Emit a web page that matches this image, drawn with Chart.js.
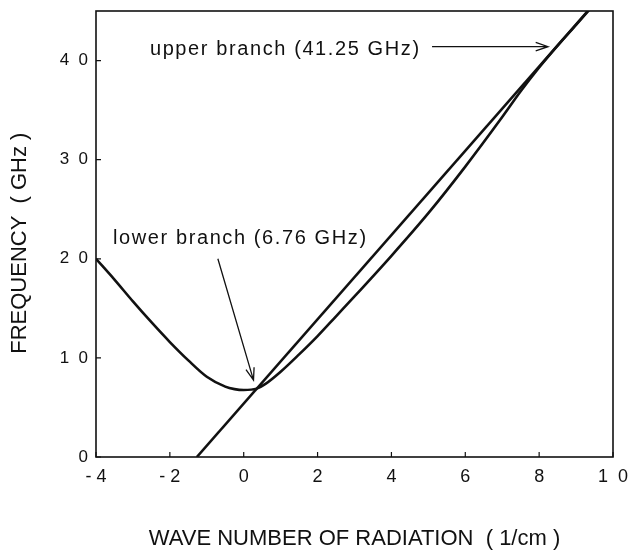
<!DOCTYPE html>
<html>
<head>
<meta charset="utf-8">
<script src="https://cdn.jsdelivr.net/npm/chart.js@4"></script>
<style>
  body { margin: 0; background: #fff; }
  canvas { display: block; }
</style>
</head>
<body>
<canvas id="myChart" width="628" height="550"></canvas>
<script>
// polariton branch (lower + upper)
var curveX = [-4, -3.5, -3, -2.5, -2, -1.5, -1, -0.5, -0.25, 0, 0.35, 0.6, 1, 1.5, 2, 2.5, 3, 4, 5, 6, 7, 7.5, 8, 8.5, 9, 9.4];
var curveY = [20, 17.9, 15.7, 13.6, 11.6, 9.75, 8.1, 7.1, 6.85, 6.76, 6.9, 7.4, 8.6, 10.35, 12.2, 14.2, 16.2, 20.3, 24.6, 29.3, 34.3, 36.9, 39.3, 41.5, 43.6, 45.3];

// straight line
var lineX = [-1.27, 9.4];
var lineY = [0, 45.35];

var xTicks = [-4, -2, 0, 2, 4, 6, 8, 10];
var xTickLabels = ["- 4", "- 2", "0", "2", "4", "6", "8", "1  0"];
var yTicks = [0, 10, 20, 30, 40];
var yTickLabels = ["0", "1  0", "2  0", "3  0", "4  0"];

var FONT = "'Liberation Sans', Arial, Helvetica, sans-serif";
var INK = "#111";

function toPoints(xs, ys)
{
  var pts = [];
  for (var i = 0; i < xs.length; i++)
  {
    pts.push({ x: xs[i], y: ys[i] });
  }
  return pts;
}

function arrow(ctx, x1, y1, x2, y2)
{
  var ang = Math.atan2(y2 - y1, x2 - x1);
  var head = 13;
  ctx.beginPath();
  ctx.moveTo(x1, y1);
  ctx.lineTo(x2, y2);
  ctx.moveTo(x2 - head * Math.cos(ang - 0.33), y2 - head * Math.sin(ang - 0.33));
  ctx.lineTo(x2, y2);
  ctx.lineTo(x2 - head * Math.cos(ang + 0.33), y2 - head * Math.sin(ang + 0.33));
  ctx.stroke();
}

function noPadding(scale)
{
  scale.paddingTop = 0;
  scale.paddingBottom = 0;
  scale.paddingLeft = 0;
  scale.paddingRight = 0;
}

// frame, inward ticks and the two labels with arrows
var decorations = {
  id: "decorations",
  afterDraw: function(chart) {
    var ctx = chart.ctx;
    var a = chart.chartArea;
    var xs = chart.scales.x;
    var ys = chart.scales.y;
    ctx.save();
    ctx.strokeStyle = INK;
    ctx.lineWidth = 1.6;
    ctx.strokeRect(a.left, a.top, a.right - a.left, a.bottom - a.top);

    ctx.lineWidth = 1.2;
    ctx.beginPath();
    for (var i = 0; i < xTicks.length; i++)
    {
      var px = xs.getPixelForValue(xTicks[i]);
      ctx.moveTo(px, a.bottom);
      ctx.lineTo(px, a.bottom - 5);
    }
    for (var j = 0; j < yTicks.length; j++)
    {
      var py = ys.getPixelForValue(yTicks[j]);
      ctx.moveTo(a.left, py);
      ctx.lineTo(a.left + 5, py);
    }
    ctx.stroke();

    ctx.fillStyle = INK;
    ctx.font = "20px " + FONT;
    ctx.letterSpacing = "1.6px";
    ctx.textBaseline = "middle";
    ctx.textAlign = "left";
    ctx.fillText("upper branch (41.25 GHz)", xs.getPixelForValue(-2.54), ys.getPixelForValue(41.1));
    ctx.fillText("lower branch (6.76 GHz)", xs.getPixelForValue(-3.54), ys.getPixelForValue(22.0));

    ctx.lineWidth = 1.3;
    arrow(ctx, xs.getPixelForValue(5.1), ys.getPixelForValue(41.4),
               xs.getPixelForValue(8.24), ys.getPixelForValue(41.4));
    arrow(ctx, xs.getPixelForValue(-0.70), ys.getPixelForValue(20.0),
               xs.getPixelForValue(0.265), ys.getPixelForValue(7.75));
    ctx.restore();
  }
};

new Chart("myChart", {
  type: "scatter",
  data: {
    datasets: [
      {
        data: toPoints(curveX, curveY),
        showLine: true,
        borderColor: INK,
        borderWidth: 2.6,
        pointRadius: 0,
        cubicInterpolationMode: "monotone"
      },
      {
        data: toPoints(lineX, lineY),
        showLine: true,
        borderColor: INK,
        borderWidth: 2.6,
        pointRadius: 0
      }
    ]
  },
  options: {
    responsive: false,
    animation: false,
    layout: { padding: { left: 0, top: 11, right: 15, bottom: 0 } },
    plugins: { legend: { display: false }, tooltip: { enabled: false } },
    scales: {
      x: {
        type: "linear",
        min: -4,
        max: 10,
        afterFit: function(scale) { scale.height = 93; noPadding(scale); },
        afterBuildTicks: function(scale) {
          scale.ticks = xTicks.map(function(v) { return { value: v }; });
        },
        grid: { display: false, drawTicks: false },
        border: { display: false },
        ticks: {
          color: INK,
          padding: 9,
          maxRotation: 0,
          font: { family: FONT, size: 18 },
          callback: function(v) { return xTickLabels[xTicks.indexOf(v)]; }
        },
        title: {
          display: true,
          text: "WAVE NUMBER OF RADIATION  ( 1/cm )",
          color: INK,
          padding: { top: 0, bottom: -2 },
          font: { family: FONT, size: 22 }
        }
      },
      y: {
        type: "linear",
        min: 0,
        max: 45,
        afterFit: function(scale) { scale.width = 96; noPadding(scale); },
        afterBuildTicks: function(scale) {
          scale.ticks = yTicks.map(function(v) { return { value: v }; });
        },
        grid: { display: false, drawTicks: false },
        border: { display: false },
        ticks: {
          color: INK,
          padding: 8,
          font: { family: FONT, size: 17 },
          callback: function(v) { return yTickLabels[yTicks.indexOf(v)]; }
        },
        title: {
          display: true,
          text: "FREQUENCY  ( GHz )   ",
          color: INK,
          padding: { top: 7, bottom: 0 },
          font: { family: FONT, size: 22 }
        }
      }
    }
  },
  plugins: [decorations]
});
</script>
</body>
</html>
